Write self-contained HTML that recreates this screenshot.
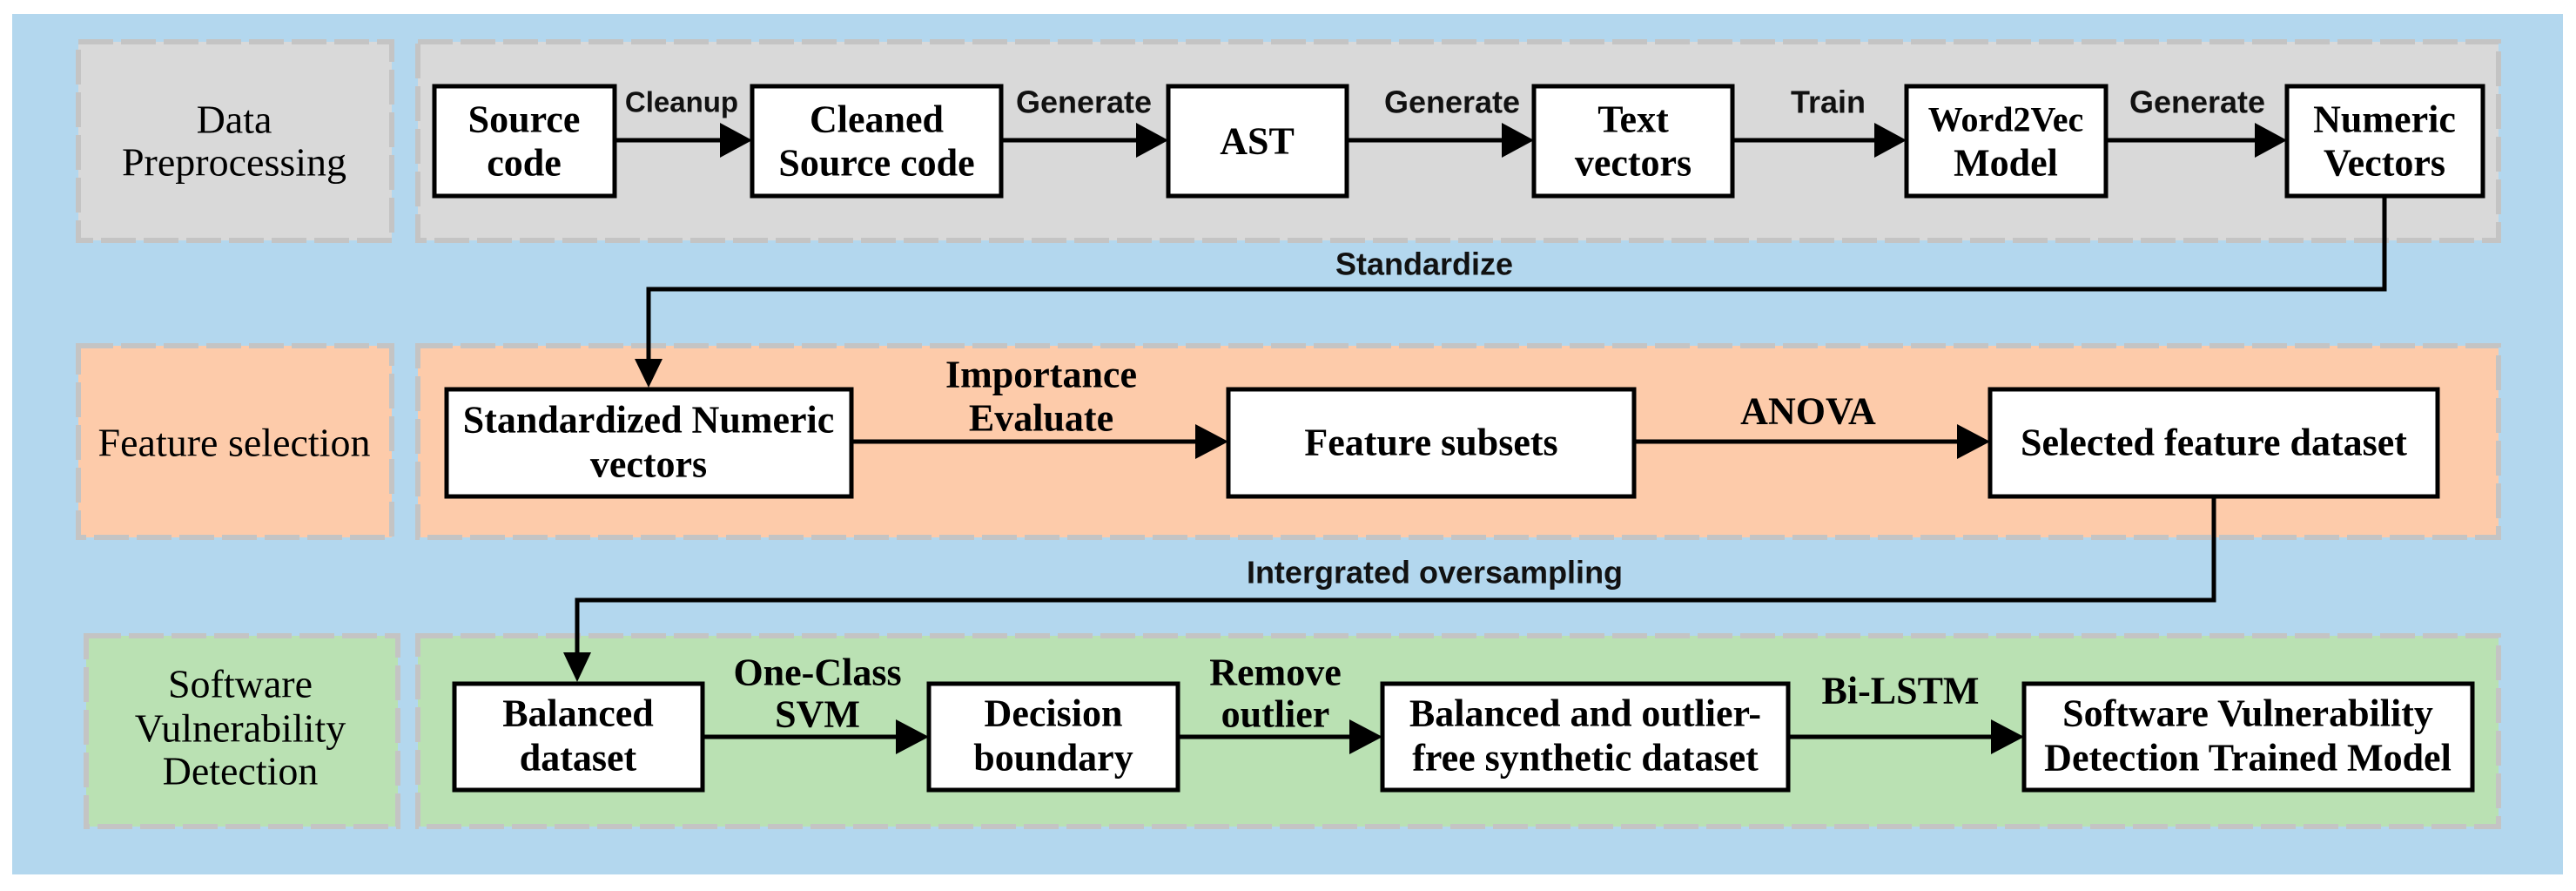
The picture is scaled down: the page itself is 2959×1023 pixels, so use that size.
<!DOCTYPE html>
<html><head><meta charset="utf-8"><style>
html,body{margin:0;padding:0;background:#fff}
svg{display:block}
.s{font-family:"Liberation Serif",serif;font-weight:bold;font-size:44px;fill:#000;text-anchor:middle;dominant-baseline:central}
.b{font-family:"Liberation Sans",sans-serif;font-weight:bold;font-size:36px;fill:#111;text-anchor:middle;dominant-baseline:central}
.box{fill:#fff;stroke:#000;stroke-width:5}
.pan{stroke:#c4c4c4;stroke-width:6;stroke-dasharray:40 9}
.ln{stroke:#000;stroke-width:5;fill:none}
</style></head><body>
<svg width="2959" height="1023" viewBox="0 0 2959 1023" xmlns="http://www.w3.org/2000/svg">
<rect x="14" y="16" width="2930" height="988" fill="#b3d7ee"/>
<rect class="pan" x="90" y="48" width="360" height="228" fill="#d9d9d9"/>
<rect class="pan" x="480" y="48" width="2390" height="228" fill="#d9d9d9"/>
<rect class="pan" x="90" y="397" width="360" height="220" fill="#fdcbaa"/>
<rect class="pan" x="480" y="397" width="2390" height="220" fill="#fdcbaa"/>
<rect class="pan" x="99" y="730" width="358" height="219" fill="#bae1b3"/>
<rect class="pan" x="480" y="730" width="2390" height="219" fill="#bae1b3"/>
<g style="font-weight:normal">
<text class="s" x="269" y="137" style="font-weight:normal;font-size:46px">Data</text>
<text class="s" x="269" y="186" style="font-weight:normal;font-size:46px">Preprocessing</text>
<text class="s" x="269" y="508" style="font-weight:normal;font-size:46px">Feature selection</text>
<text class="s" x="276" y="785" style="font-weight:normal;font-size:46px">Software</text>
<text class="s" x="276" y="836" style="font-weight:normal;font-size:46px">Vulnerability</text>
<text class="s" x="276" y="885" style="font-weight:normal;font-size:46px">Detection</text>
</g>
<rect class="box" x="499" y="99" width="207" height="126"/>
<rect class="box" x="864" y="99" width="286" height="126"/>
<rect class="box" x="1342" y="99" width="205" height="126"/>
<rect class="box" x="1762" y="99" width="228" height="126"/>
<rect class="box" x="2190" y="99" width="229" height="126"/>
<rect class="box" x="2627" y="99" width="225" height="126"/>
<text class="s" x="602" y="137">Source</text><text class="s" x="602" y="187">code</text>
<text class="s" x="1007" y="137">Cleaned</text><text class="s" x="1007" y="187">Source code</text>
<text class="s" x="1444" y="162">AST</text>
<text class="s" x="1876" y="137">Text</text><text class="s" x="1876" y="187">vectors</text>
<text class="s" x="2304" y="137" style="font-size:40px">Word2Vec</text><text class="s" x="2304" y="187">Model</text>
<text class="s" x="2739" y="137">Numeric</text><text class="s" x="2739" y="187">Vectors</text>
<g class="ln"><line x1="708" y1="161" x2="830" y2="161"/><line x1="1152" y1="161" x2="1308" y2="161"/><line x1="1549" y1="161" x2="1728" y2="161"/><line x1="1992" y1="161" x2="2156" y2="161"/><line x1="2421" y1="161" x2="2593" y2="161"/></g>
<g fill="#000"><polygon points="827,141 864,161 827,181"/><polygon points="1305,141 1342,161 1305,181"/><polygon points="1725,141 1762,161 1725,181"/><polygon points="2153,141 2190,161 2153,181"/><polygon points="2590,141 2627,161 2590,181"/></g>
<text class="b" x="783" y="117" style="font-size:33px">Cleanup</text>
<text class="b" x="1245" y="117">Generate</text>
<text class="b" x="1668" y="117">Generate</text>
<text class="b" x="2100" y="117">Train</text>
<text class="b" x="2524" y="117">Generate</text>
<polyline class="ln" points="2739,227 2739,332 745,332 745,415"/>
<polygon points="729,412 761,412 745,445" fill="#000"/>
<text class="b" x="1636" y="303">Standardize</text>
<rect class="box" x="513" y="447" width="465" height="123"/>
<rect class="box" x="1411" y="447" width="466" height="123"/>
<rect class="box" x="2286" y="447" width="514" height="123"/>
<text class="s" x="745" y="482">Standardized Numeric</text><text class="s" x="745" y="533">vectors</text>
<text class="s" x="1644" y="508">Feature subsets</text>
<text class="s" x="2543" y="508">Selected feature dataset</text>
<g class="ln"><line x1="980" y1="507" x2="1376" y2="507"/><line x1="1879" y1="507" x2="2251" y2="507"/></g>
<g fill="#000"><polygon points="1373,487 1411,507 1373,527"/><polygon points="2248,487 2286,507 2248,527"/></g>
<text class="s" x="1196" y="430">Importance</text><text class="s" x="1196" y="480">Evaluate</text>
<text class="s" x="2077" y="472">ANOVA</text>
<polyline class="ln" points="2543,572 2543,689 663,689 663,752"/>
<polygon points="647,749 679,749 663,783" fill="#000"/>
<text class="b" x="1648" y="657">Intergrated oversampling</text>
<rect class="box" x="522" y="785" width="285" height="122"/>
<rect class="box" x="1067" y="785" width="286" height="122"/>
<rect class="box" x="1588" y="785" width="466" height="122"/>
<rect class="box" x="2325" y="785" width="515" height="122"/>
<text class="s" x="664" y="819">Balanced</text><text class="s" x="664" y="870">dataset</text>
<text class="s" x="1210" y="819">Decision</text><text class="s" x="1210" y="870">boundary</text>
<text class="s" x="1821" y="819">Balanced and outlier-</text><text class="s" x="1821" y="870">free synthetic dataset</text>
<text class="s" x="2582" y="819">Software Vulnerability</text><text class="s" x="2582" y="870">Detection Trained Model</text>
<g class="ln"><line x1="809" y1="846" x2="1032" y2="846"/><line x1="1355" y1="846" x2="1553" y2="846"/><line x1="2056" y1="846" x2="2290" y2="846"/></g>
<g fill="#000"><polygon points="1029,826 1067,846 1029,866"/><polygon points="1550,826 1588,846 1550,866"/><polygon points="2287,826 2325,846 2287,866"/></g>
<text class="s" x="939" y="772">One-Class</text><text class="s" x="939" y="820">SVM</text>
<text class="s" x="1465" y="772">Remove</text><text class="s" x="1465" y="820">outlier</text>
<text class="s" x="2183" y="793">Bi-LSTM</text>
</svg>
</body></html>
